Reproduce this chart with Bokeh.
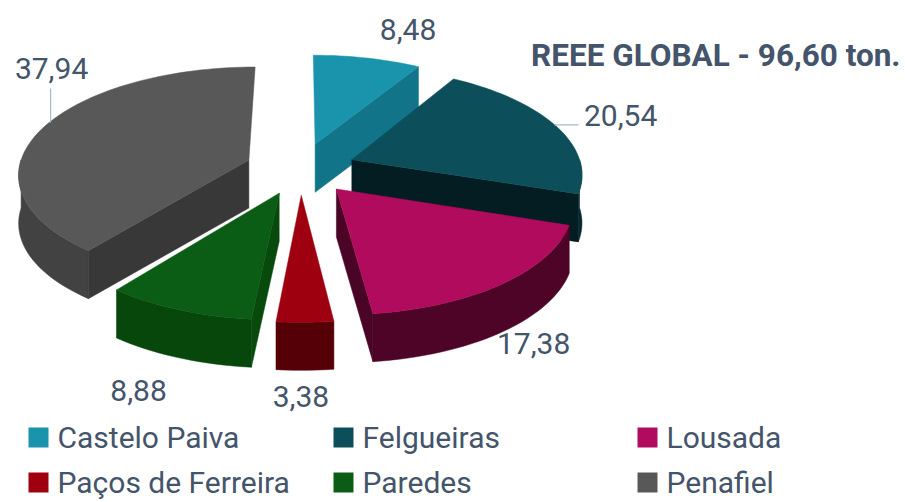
import numpy as np
from bokeh.plotting import figure
from bokeh.models import Range1d, ColumnDataSource
from bokeh.core.properties import value
from bokeh.embed import file_html
from bokeh.resources import INLINE

# ---------------- data ----------------
categories = ["Castelo Paiva", "Felgueiras", "Lousada", "Paços de Ferreira", "Paredes", "Penafiel"]
values = [8.48, 20.54, 17.38, 3.38, 8.88, 37.94]
value_labels = ["8,48", "20,54", "17,38", "3,38", "8,88", "37,94"]
title_text = "REEE GLOBAL - 96,60 ton."

# ---------------- styles ----------------
top_colors = ["#1a93ad", "#0c4f5a", "#b00b5c", "#9e0010", "#0b5c14", "#585858"]
face_colors = ["#117489", "#031d22", "#4a0526", "#520006", "#074a0c", "#383838"]
wall_colors = ["#0f6a80", "#042a30", "#4d0427", "#550006", "#07470c", "#424242"]
text_color = "#44546a"
FONT = "Roboto"

# ---------------- layout ----------------
W, H = 905, 502
CX, CY = 300.0, 168.0
RX, RY = 230.0, 108.0
PERSP = 0.12
DEPTH = 48.0
EXPLODE = 0.24
label_offsets = [(41, -29), (66, -9), (31, 12), (-4, 26), (-40, 33), (7, -58)]
legend_cols = [28, 333, 637]
legend_rows = [437, 482]
SQ = 20


def proj(u, w, z=0.0):
    s = 1.0 - PERSP * w
    return CX + RX * u * s, CY - RY * w * s + z


vals = np.array(values, dtype=float)
frac = vals / vals.sum()
ends = np.cumsum(frac) * 360.0
starts = ends - frac * 360.0
mids = (starts + ends) / 2.0

polys = []
slice_info = []
for i in range(len(values)):
    t1, t2, tm = starts[i], ends[i], mids[i]
    eu = EXPLODE * np.sin(np.radians(tm))
    ew = EXPLODE * np.cos(np.radians(tm))
    angs = np.linspace(t1, t2, max(int((t2 - t1) / 2) + 2, 3))
    ru = eu + np.sin(np.radians(angs))
    rw = ew + np.cos(np.radians(angs))
    top = [proj(u, w) for u, w in zip(ru, rw)]
    bot = [proj(u, w, DEPTH) for u, w in zip(ru, rw)]
    apex_t = proj(eu, ew)
    apex_b = proj(eu, ew, DEPTH)
    items = []
    lo, hi = max(t1, 90.0), min(t2, 270.0)
    if hi > lo:
        wa = np.linspace(lo, hi, max(int((hi - lo) / 2) + 2, 3))
        wu = eu + np.sin(np.radians(wa))
        ww = ew + np.cos(np.radians(wa))
        wt = [proj(u, w) for u, w in zip(wu, ww)]
        wb = [proj(u, w, DEPTH) for u, w in zip(wu, ww)]
        pts = wt + wb[::-1]
        items.append(([q[0] for q in pts], [q[1] for q in pts], wall_colors[i]))
    if np.sin(np.radians(t1)) < -1e-6:
        pts = [apex_t, top[0], bot[0], apex_b]
        items.append(([q[0] for q in pts], [q[1] for q in pts], face_colors[i]))
    if np.sin(np.radians(t2)) > 1e-6:
        pts = [apex_t, top[-1], bot[-1], apex_b]
        items.append(([q[0] for q in pts], [q[1] for q in pts], face_colors[i]))
    pts = [apex_t] + top
    items.append(([q[0] for q in pts], [q[1] for q in pts], top_colors[i]))
    polys.append((ew, items))

    mu = eu + np.sin(np.radians(tm))
    mw = ew + np.cos(np.radians(tm))
    front = np.cos(np.radians(tm)) < 0
    ax, ay = proj(mu, mw, DEPTH if front else 0.0)
    slice_info.append((ax, ay))

polys.sort(key=lambda t: -t[0])
xs, ys, cs = [], [], []
for _, items in polys:
    for x, y, c in items:
        xs.append(x)
        ys.append(y)
        cs.append(c)

p = figure(width=W, height=H, x_range=Range1d(0, W), y_range=Range1d(H, 0),
           output_backend="svg", toolbar_location=None, min_border=0)
p.axis.visible = False
p.xgrid.visible = False
p.ygrid.visible = False
p.outline_line_color = None
p.min_border_left = p.min_border_right = p.min_border_top = p.min_border_bottom = 0

p.patches(xs="xs", ys="ys", fill_color="cs", line_color="cs", line_width=0.5,
          source=ColumnDataSource(dict(xs=xs, ys=ys, cs=cs)))

lx, ly = [], []
for i, (ax, ay) in enumerate(slice_info):
    ox, oy = label_offsets[i]
    tx, ty = ax + ox, ay + oy
    lx.append(tx)
    ly.append(ty)
    if abs(oy) > 45:
        p.segment(x0=[tx - 1], y0=[ay - 4], x1=[tx - 1], y1=[ty + 20], line_color="#a8b8ca", line_width=1.2)
    elif abs(ox) > 60:
        p.segment(x0=[ax], y0=[ay], x1=[tx - 42], y1=[ay], line_color="#a8b8ca", line_width=1.2)

p.text(x=lx, y=ly, text=value_labels, text_font=value(FONT), text_font_size=value("30px"),
       text_color=text_color, text_align="center", text_baseline="middle")

p.text(x=[900], y=[55], text=[title_text], text_font=value(FONT), text_font_size=value("31.5px"),
       text_font_style="bold", text_color=text_color, text_align="right", text_baseline="alphabetic")

gx, gy, tx_, ty_ = [], [], [], []
for i, cat in enumerate(categories):
    col, row = i % 3, i // 3
    gx.append(legend_cols[col] + SQ / 2)
    gy.append(legend_rows[row])
    tx_.append(legend_cols[col] + SQ + 9)
    ty_.append(legend_rows[row])
p.rect(x=gx, y=gy, width=SQ, height=SQ, width_units="screen", height_units="screen",
       fill_color=top_colors, line_color=None)
p.text(x=tx_, y=ty_, text=categories, text_font=value(FONT), text_font_size=value("30px"),
       text_color=text_color, text_align="left", text_baseline="middle")

open("out.html", "w").write(file_html(p, INLINE))
